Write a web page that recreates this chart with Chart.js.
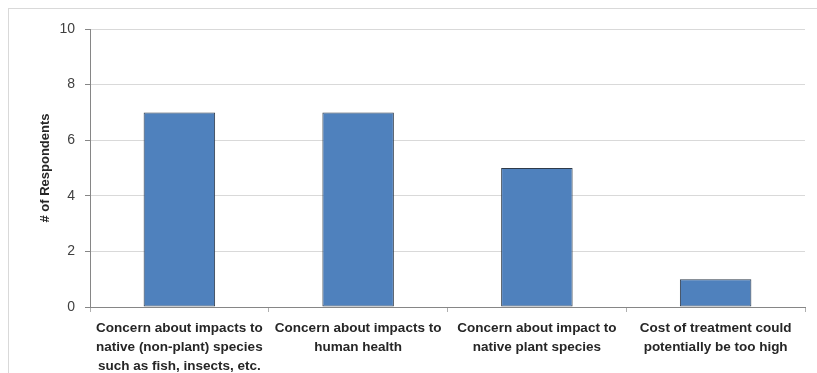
<!DOCTYPE html>
<html>
<head>
<meta charset="utf-8">
<script src="https://cdn.jsdelivr.net/npm/chart.js@4.4.1/dist/chart.umd.min.js"></script>
<style>
  html, body { margin: 0; padding: 0; background: #fff; }
  #wrap { position: relative; width: 817px; height: 373px; overflow: hidden; }
  #frame { position: absolute; left: 8px; top: 8px; width: 830px; height: 400px; border: 1px solid #d9d9d9; }
  #chart { position: absolute; left: 0; top: 0; }
</style>
</head>
<body>
<div id="wrap">
  <div id="frame"></div>
  <canvas id="chart" width="817" height="373"></canvas>
</div>
<script>
// categories (multi-line labels as in the original)
const categories = [
  ["Concern about impacts to", "native (non-plant) species", "such as fish, insects, etc."],
  ["Concern about impacts to", "human health"],
  ["Concern about impact to", "native plant species"],
  ["Cost of treatment could", "potentially be too high"],
];
const respondents = [7, 7, 5, 1];
const yTicks = [0, 2, 4, 6, 8, 10];

const textFont = "'Liberation Sans', Arial, sans-serif";

new Chart(document.getElementById("chart"), {
  type: "bar",
  data: {
    labels: categories,
    datasets: [
      {
        label: "# of Respondents",
        data: respondents,
        backgroundColor: "#4F81BD",
        borderColor: "#2f3b4a",
        borderWidth: 1,
        borderSkipped: false,
        barPercentage: 0.4,
        categoryPercentage: 1,
      },
    ],
  },
  options: {
    responsive: false,
    animation: false,
    layout: { padding: { left: 0, right: 12, top: 29, bottom: 0 } },
    plugins: {
      legend: { display: false },
      tooltip: { enabled: false },
    },
    scales: {
      x: {
        afterFit: (scale) => { scale.height = 66; },
        grid: {
          drawOnChartArea: false,
          tickLength: 5,
          tickColor: "#b0b0b0",
        },
        border: { color: "#868686" },
        ticks: {
          maxRotation: 0,
          autoSkip: false,
          padding: 7,
          color: "#262626",
          font: { family: textFont, size: 13.5, weight: "bold", lineHeight: 1.4 },
        },
      },
      y: {
        min: 0,
        max: 10,
        afterFit: (scale) => { scale.width = 90; },
        afterBuildTicks: (scale) => {
          scale.ticks = yTicks.map((v) => ({ value: v }));
        },
        grid: {
          color: "#d9d9d9",
          tickLength: 5,
          tickColor: "#868686",
        },
        border: { color: "#868686" },
        ticks: {
          padding: 10,
          color: "#404040",
          font: { family: textFont, size: 14 },
        },
        title: {
          display: true,
          text: "# of Respondents",
          color: "#262626",
          padding: { top: 38, bottom: 0 },
          font: { family: textFont, size: 13, weight: "bold" },
        },
      },
    },
  },
});
</script>
</body>
</html>
